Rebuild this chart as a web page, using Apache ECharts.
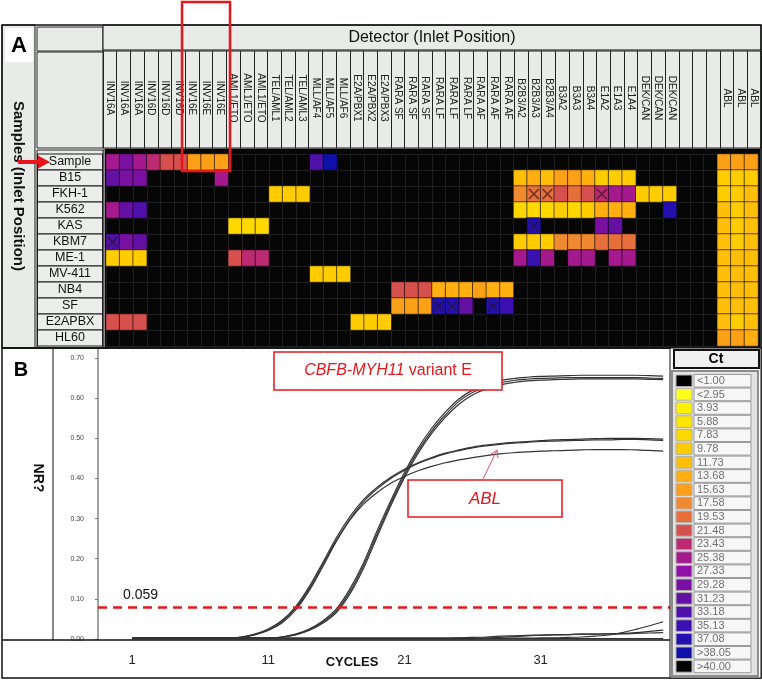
<!DOCTYPE html>
<html>
<head>
<meta charset="utf-8">
<script src="https://cdn.jsdelivr.net/npm/echarts@6/dist/echarts.min.js"></script>
<style>
  html, body { margin: 0; padding: 0; background: #fff; }
  #chart { width: 762px; height: 682px; }
</style>
</head>
<body>
<div id="chart"></div>
<script>
// ---- panel A: detectors (columns) and samples (rows) ----
const detectors = ['INV16A','INV16A','INV16A','INV16D','INV16D','INV16D','INV16E','INV16E','INV16E',
  'AML1/ETO','AML1/ETO','AML1/ETO','TEL/AML1','TEL/AML2','TEL/AML3','MLL/AF4','MLL/AF5','MLL/AF6',
  'E2A/PBX1','E2A/PBX2','E2A/PBX3','RARA SF','RARA SF','RARA SF','RARA LF','RARA LF','RARA LF',
  'RARA AF','RARA AF','RARA AF','B2B3/A2','B2B3/A3','B2B3/A4','B3A2','B3A3','B3A4','E1A2','E1A3','E1A4',
  'DEK/CAN','DEK/CAN','DEK/CAN','','','','ABL','ABL','ABL'];
const samples = ['Sample','B15','FKH-1','K562','KAS','KBM7','ME-1','MV-411','NB4','SF','E2APBX','HL60'];

// wells with a Ct value, per sample: [detector column, Ct]
const wellsSample = [[0,25],[1,28],[2,25],[3,23],[4,21],[5,21],[6,15],[7,15],[8,15],[15,32.5],[16,38.5],[45,14],[46,14],[47,14]];
const wellsB15 = [[0,30.5],[1,28],[2,28],[8,25],[30,11],[31,13],[32,11],[33,14],[34,14],[35,13],[36,9],[37,9],[38,8],[45,9],[46,8],[47,9]];
const wellsFKH1 = [[12,9],[13,9],[14,9],[30,17],[31,19],[32,19],[33,21],[34,19],[35,21],[36,23],[37,25],[38,25],[39,9],[40,9],[41,9],[45,9],[46,9],[47,10]];
const wellsK562 = [[0,25],[1,30.5],[2,32.5],[30,7],[31,7],[32,7],[33,8],[34,7],[35,8],[36,13],[37,13],[38,12],[41,36.5],[45,10],[46,9],[47,10]];
const wellsKAS = [[9,7],[10,7],[11,7],[31,36.5],[36,28],[37,30.5],[45,10],[46,9],[47,10]];
const wellsKBM7 = [[0,33],[1,28],[2,30.5],[30,8],[31,9],[32,8],[33,17],[34,17],[35,17],[36,19],[37,19],[38,19],[45,10],[46,9],[47,10]];
const wellsME1 = [[0,9],[1,9],[2,9],[9,21],[10,23],[11,23],[30,25],[31,34.5],[32,25],[34,25],[35,25],[37,25],[38,25],[45,11],[46,10],[47,10]];
const wellsMV411 = [[15,9],[16,9],[17,9],[45,11],[46,10],[47,11]];
const wellsNB4 = [[21,21],[22,21],[23,21],[24,13],[25,12],[26,12],[27,14],[28,13],[29,13],[45,11],[46,10],[47,11]];
const wellsSF = [[21,15],[22,14],[23,14],[24,36.5],[25,36.5],[26,30.5],[28,36.5],[29,34.5],[45,11],[46,10],[47,11]];
const wellsE2APBX = [[0,21],[1,21],[2,21],[18,9],[19,9],[20,9],[45,10],[46,9],[47,10]];
const wellsHL60 = [[45,14],[46,14],[47,13]];
const wellsBySample = [wellsSample, wellsB15, wellsFKH1, wellsK562, wellsKAS, wellsKBM7, wellsME1, wellsMV411, wellsNB4, wellsSF, wellsE2APBX, wellsHL60];

// wells flagged with a cross: [detector column, sample row]
const crossedWells = [[31,2],[32,2],[36,2],[31,4],[0,5],[24,9],[25,9],[28,9]];

// Ct colour key
const ctLabels = ['<1.00','<2.95','3.93','5.88','7.83','9.78','11.73','13.68','15.63','17.58','19.53','21.48',
  '23.43','25.38','27.33','29.28','31.23','33.18','35.13','37.08','>38.05','>40.00'];
const ctBreaks = [1.00, 2.95, 3.93, 5.88, 7.83, 9.78, 11.73, 13.68, 15.63, 17.58, 19.53, 21.48,
  23.43, 25.38, 27.33, 29.28, 31.23, 33.18, 35.13, 37.08, 40.00];
const ctColors = ['#000000','#ffff1e','#fff200','#ffe600','#ffd800','#ffcc00','#ffbf08','#ffb010','#fca018',
  '#f08a30','#e6703c','#d6504e','#bc2a72','#a41a8e','#9010a8','#7a10a2','#6410a2','#5010aa','#3a10b0',
  '#2210b0','#0e10a8','#000000'];

// ---- panel B: amplification plot ----
const cycles = [1,2,3,4,5,6,7,8,9,10,11,12,13,14,15,16,17,18,19,20,21,22,23,24,25,26,27,28,29,30,31,32,33,34,35,36,37,38,39,40];
const cycleTicks = [1, 11, 21, 31];
const thresholdLevel = 0.077;
const thresholdLabel = '0.059';

const cbfbRun1 = [0.002,0.002,0.002,0.002,0.002,0.002,0.002,0.002,0.002,0.002,0.003,0.005,0.012,0.025,0.045,0.075,0.125,0.19,0.27,0.345,
  0.415,0.475,0.525,0.565,0.598,0.62,0.635,0.644,0.649,0.652,0.654,0.655,0.656,0.657,0.657,0.657,0.657,0.657,0.656,0.655];
const cbfbRun2 = [0.001,0.001,0.001,0.001,0.001,0.001,0.001,0.001,0.001,0.002,0.002,0.004,0.01,0.021,0.039,0.066,0.112,0.176,0.255,0.332,
  0.402,0.462,0.512,0.552,0.585,0.608,0.623,0.633,0.639,0.643,0.645,0.646,0.647,0.648,0.648,0.648,0.648,0.648,0.647,0.646];
const cbfbRun3 = [0.002,0.002,0.002,0.002,0.002,0.002,0.002,0.002,0.002,0.002,0.003,0.005,0.011,0.023,0.042,0.07,0.118,0.183,0.262,0.338,
  0.408,0.468,0.518,0.558,0.592,0.614,0.629,0.638,0.644,0.647,0.649,0.65,0.651,0.651,0.651,0.651,0.651,0.651,0.65,0.649];
const ablRun1 = [0.002,0.002,0.002,0.002,0.002,0.002,0.002,0.002,0.005,0.012,0.025,0.046,0.08,0.13,0.19,0.252,0.305,0.347,0.378,0.403,
  0.423,0.439,0.452,0.463,0.471,0.478,0.483,0.487,0.49,0.492,0.494,0.496,0.497,0.498,0.499,0.5,0.5,0.5,0.499,0.498];
const ablRun2 = [0.002,0.002,0.002,0.002,0.002,0.002,0.002,0.002,0.004,0.01,0.021,0.04,0.072,0.12,0.18,0.243,0.298,0.342,0.374,0.4,
  0.42,0.437,0.45,0.461,0.469,0.476,0.481,0.485,0.488,0.49,0.492,0.493,0.494,0.495,0.496,0.496,0.497,0.497,0.496,0.495];
const ablRun3 = [0.002,0.002,0.002,0.002,0.002,0.002,0.002,0.002,0.004,0.011,0.023,0.043,0.076,0.125,0.185,0.245,0.297,0.336,0.365,0.388,
  0.405,0.419,0.43,0.439,0.446,0.452,0.457,0.461,0.464,0.466,0.468,0.469,0.47,0.471,0.472,0.472,0.472,0.471,0.47,0.468];
const negRun1 = [0.001,0.001,0.001,0.001,0.001,0.001,0.001,0.001,0.001,0.001,0.001,0.001,0.001,0.001,0.001,0.001,0.001,0.001,0.001,0.001,
  0.001,0.001,0.001,0.001,0.001,0.001,0.001,0.001,0.001,0.001,0.001,0.001,0.001,0.001,0.001,0.001,0.001,0.001,0.001,0.001];
const negRun2 = [0.002,0.002,0.002,0.002,0.002,0.002,0.002,0.002,0.002,0.002,0.002,0.002,0.002,0.002,0.002,0.002,0.002,0.002,0.002,0.002,
  0.002,0.002,0.002,0.002,0.003,0.004,0.005,0.007,0.008,0.009,0.01,0.011,0.011,0.012,0.012,0.013,0.014,0.016,0.019,0.022];
const negRun3 = [0.002,0.002,0.002,0.002,0.002,0.002,0.002,0.002,0.002,0.002,0.002,0.002,0.002,0.002,0.002,0.002,0.002,0.002,0.002,0.002,
  0.002,0.002,0.002,0.002,0.002,0.002,0.002,0.002,0.002,0.002,0.003,0.003,0.004,0.005,0.007,0.01,0.016,0.024,0.033,0.043];
const negRun4 = [0.0,0.0,0.0,0.0,0.0,0.0,0.0,0.0,0.0,0.0,0.0,0.0,0.0,0.0,0.0,0.0,0.0,0.0,0.0,0.0,
  0.0,0.0,0.0,0.0,0.0,0.0,0.002,0.004,0.006,0.008,0.009,0.01,0.011,0.012,0.012,0.013,0.013,0.014,0.015,0.016];
const runs = [cbfbRun1, cbfbRun2, cbfbRun3, ablRun1, ablRun2, ablRun3, negRun1, negRun2, negRun3, negRun4];

// ---- build ----
const heatData = [];
wellsBySample.forEach((wells, row) => wells.forEach(w => heatData.push([w[0], row, w[1]])));

const pieces = ctColors.map((c, i) => {
  const p = { color: c };
  if (i > 0) p.gte = ctBreaks[i - 1];
  if (i < ctBreaks.length) p.lt = ctBreaks[i];
  return p;
});

const RED = '#e8161b';
const BASE = 'Liberation Sans, Arial, sans-serif';
const overlay = [];
function rect(x, y, w, h, fill, stroke, lw, z) {
  overlay.push({ type: 'rect', silent: true, z: z || 0, shape: { x, y, width: w, height: h },
    style: { fill: fill, stroke: stroke, lineWidth: lw || 1 } });
}
function seg(x1, y1, x2, y2, stroke, lw, z) {
  overlay.push({ type: 'line', silent: true, z: z || 0, shape: { x1, y1, x2, y2 }, style: { stroke, lineWidth: lw || 1 } });
}
function text(x, y, str, font, fill, extra, align) {
  overlay.push(Object.assign({ type: 'text', silent: true, z: 60, x, y,
    style: { text: str, font, fill, textAlign: align || 'center', textVerticalAlign: 'middle' } }, extra || {}));
}

// panel A frame
rect(2, 25, 759, 323, 'none', '#111', 1.5, 1);
rect(2, 25, 33, 323, '#e8ebe8', '#111', 1);
rect(5, 28, 28, 34, '#fff', 'none', 1, 2);
text(19, 46, 'A', 'bold 22px ' + BASE, '#000');
text(18, 186, 'Samples (Inlet Position)', 'bold 15px ' + BASE, '#111', { rotation: -Math.PI / 2 });
rect(37, 27, 66, 24, '#e8ebe8', '#222', 1);
rect(37, 52, 66, 96, '#e8ebe8', '#222', 1);
rect(37, 150, 66, 198, '#e8ebe8', '#222', 1, -2);
rect(103, 25, 658, 25, '#e8ebe8', '#111', 1);
text(432, 38, 'Detector (Inlet Position)', '16px ' + BASE, '#111');
rect(104, 148, 657, 200, '#060606', '#8a8a8a', 2, -5);
// highlight of INV16E
rect(182, 2, 48, 169, 'none', RED, 2.5, 100);
overlay.push({ type: 'polygon', silent: true, z: 100,
  shape: { points: [[18, 160], [38, 160], [38, 155.5], [50, 162], [38, 168.5], [38, 164], [18, 164]] },
  style: { fill: RED } });

// panel B frame
rect(2, 348, 759, 330, 'none', '#111', 1.5, 1);
seg(53, 348, 53, 640, '#111', 1);
seg(98, 348, 98, 640, '#444', 1);
seg(2, 640, 670, 640, '#111', 1.5, 5);
text(21, 370, 'B', 'bold 20px ' + BASE, '#000');
text(38, 478, 'NR?', 'bold 14px ' + BASE, '#111', { rotation: -Math.PI / 2 });
text(352, 662, 'CYCLES', 'bold 13px Liberation Sans Narrow, ' + BASE, '#111');
rect(274, 352, 228, 38, '#fff', RED, 1.5, 50);
overlay.push({ type: 'text', silent: true, z: 60, x: 388, y: 371,
  style: { text: '{i|CBFB-MYH11} variant E', font: '16px ' + BASE, fill: RED, textAlign: 'center', textVerticalAlign: 'middle',
    rich: { i: { fontStyle: 'italic', fontSize: 16, fontFamily: BASE, fill: RED } } } });
rect(408, 480, 154, 37, '#fff', RED, 1.5, 50);
text(485, 499, 'ABL', 'italic 17px ' + BASE, RED);
seg(483, 479, 497, 450, '#e0506a', 1, 50);
seg(497, 450, 490, 455, '#e0506a', 1, 50);
seg(497, 450, 498, 458, '#e0506a', 1, 50);

// Ct key
rect(670, 348, 91, 330, '#fff', '#111', 1, 40);
rect(674, 350, 85, 18, '#f0f0f0', '#111', 2, 41);
text(716, 359, 'Ct', 'bold 14px ' + BASE, '#000');
rect(672, 371, 86, 305, '#e2e2e2', '#8c8c8c', 2, 41);
ctLabels.forEach((lab, i) => {
  const y = 374 + i * 13.6;
  rect(676, y + 1, 16, 11.6, ctColors[i], '#b0b0b0', 1, 42);
  rect(694, y + 0.5, 57, 12.6, '#f7f7f7', '#9a9a9a', 1, 42);
  text(697, y + 7, lab, '11px ' + BASE, '#707070', null, 'left');
});

const lineSeries = runs.map(r => ({
  type: 'line', xAxisIndex: 2, yAxisIndex: 2, showSymbol: false, smooth: 0.35, silent: true,
  lineStyle: { color: '#333', width: 1.2 },
  data: cycles.map((c, i) => [c, r[i]])
}));
lineSeries[0].markLine = {
  silent: true, symbol: ['none', 'none'],
  lineStyle: { color: RED, type: [9, 6], width: 2.5 },
  label: { show: true, position: 'insideStartTop', formatter: thresholdLabel, color: '#111', fontSize: 14, fontFamily: BASE, padding: [0, 0, 0, 20] },
  data: [{ yAxis: thresholdLevel }]
};

const chart = echarts.init(document.getElementById('chart'));
chart.setOption({
  backgroundColor: '#fff',
  animation: false,
  grid: [
    { left: 106, top: 154, width: 652, height: 192 },
    { left: 103, top: 51, width: 658, height: 97, show: true, backgroundColor: '#e8ebe8', borderColor: '#222', borderWidth: 1 },
    { left: 98, top: 358, width: 572, height: 281 }
  ],
  xAxis: [
    { gridIndex: 0, type: 'category', data: detectors, axisLine: { show: false }, axisTick: { show: false },
      axisLabel: { show: false }, splitLine: { show: true, interval: 0, lineStyle: { color: '#1f1f1f' } } },
    { gridIndex: 1, type: 'category', data: detectors, position: 'bottom', axisLine: { show: false }, axisTick: { show: false },
      splitLine: { show: true, interval: 0, lineStyle: { color: '#222' } },
      axisLabel: { interval: 0, inside: true, rotate: -90, align: 'center', verticalAlign: 'middle', margin: 50,
        fontSize: 10, fontFamily: 'Liberation Sans Narrow, ' + BASE, color: '#222' } },
    { gridIndex: 2, type: 'value', min: -1.5, max: 40.5, axisLine: { show: false, onZero: false }, axisTick: { show: false }, splitLine: { show: false },
      axisLabel: { customValues: cycleTicks, fontSize: 13, color: '#222', margin: 15, fontFamily: BASE } }
  ],
  yAxis: [
    { gridIndex: 0, type: 'category', data: samples, inverse: true, axisLine: { show: false }, axisTick: { show: false },
      splitLine: { show: true, interval: 0, lineStyle: { color: '#1f1f1f' } },
      axisLabel: { interval: 0, margin: 36, align: 'center', width: 62, height: 13, lineHeight: 13, padding: [1, 1],
        backgroundColor: '#eceeec', borderColor: '#1a1a1a', borderWidth: 1, fontSize: 12.5, fontFamily: BASE, color: '#111' } },
    { gridIndex: 1, type: 'value', show: false },
    { gridIndex: 2, type: 'value', min: 0, max: 0.7, interval: 0.1, axisLine: { show: false, onZero: false },
      axisTick: { show: true, length: 3, lineStyle: { color: '#777' } }, splitLine: { show: false },
      axisLabel: { fontSize: 7, color: '#444', margin: 14, fontFamily: BASE, formatter: v => v.toFixed(2) } }
  ],
  visualMap: { type: 'piecewise', show: false, seriesIndex: 0, pieces: pieces },
  series: [
    { type: 'heatmap', xAxisIndex: 0, yAxisIndex: 0, data: heatData, silent: true,
      itemStyle: { borderColor: 'rgba(0,0,0,0.6)', borderWidth: 1 } },
    { type: 'scatter', xAxisIndex: 0, yAxisIndex: 0, silent: true, z: 3,
      symbol: 'path://M0,1L1,0L10,9L9,10Z M9,0L10,1L1,10L0,9Z', symbolSize: [11, 11],
      itemStyle: { color: 'rgba(45,20,20,0.85)' }, data: crossedWells }
  ].concat(lineSeries),
  graphic: { elements: overlay }
});
</script>
</body>
</html>
